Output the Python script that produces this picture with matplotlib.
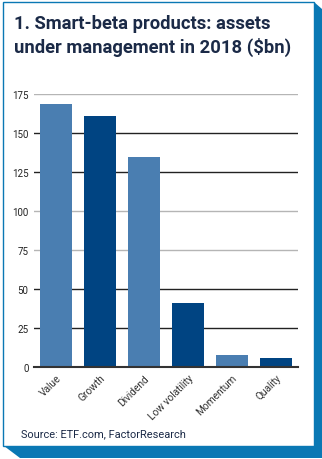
import matplotlib
matplotlib.use("Agg")
from matplotlib import pyplot as plt
from matplotlib.patches import Polygon, Rectangle

categories = ["Value", "Growth", "Dividend", "Low volatility", "Momentum", "Quality"]
aum_bn = [168.5, 160.5, 134.5, 41, 8, 6]
yticks = [0, 25, 50, 75, 100, 125, 150, 175]

light = "#4a7eb1"
dark = "#004482"
frame_blue = "#0a78b4"
navy = "#1b2a47"

W, H = 322, 460
fig = plt.figure(figsize=(W / 100, H / 100), dpi=100)
fig.patch.set_facecolor("white")

def px(x, y):
    # pixel coords (top-left origin) -> figure fraction
    return (x / W, 1 - y / H)

# drop shadow on the right and bottom, with bevelled ends
shadow = Polygon([px(314, 3), px(322, 10), px(322, 459), px(20, 459),
                  px(4, 447), px(314, 447)],
                 closed=True, transform=fig.transFigure,
                 facecolor=frame_blue, edgecolor="none", zorder=-2)
fig.patches.append(shadow)
box = Rectangle(px(3, 447), 311 / W, 444 / H, transform=fig.transFigure,
                facecolor="white", edgecolor=frame_blue, linewidth=1.0, zorder=-1)
fig.patches.append(box)

fig.text(14 / W, 1 - 15 / H, "1. Smart-beta products: assets\nunder management in 2018 ($bn)",
         ha="left", va="top", fontsize=13.2, fontweight="bold",
         family="Roboto", color=navy, linespacing=1.3)

ax = fig.add_axes([34 / W, 1 - 368 / H, 264 / W, (368 - 94.7) / H])
ax.set_facecolor("none")
colors = [light, dark] * 3
x = range(len(categories))
ax.bar(x, aum_bn, width=0.72, color=colors, zorder=3)

ax.set_xlim(-0.5, len(categories) - 0.5)
ax.set_ylim(0, 175)
ax.set_yticks(yticks)
ax.set_yticklabels([str(v) for v in yticks], fontsize=7, color="#222222",
                   family="Roboto")
for v in yticks[1:]:
    c = "#b5b5b5" if v in (175, 100, 75) else "#222222"
    ax.axhline(v, color=c, linewidth=1.0, zorder=1)

ax.set_xticks(list(x))
ax.set_xticklabels(categories, rotation=45, ha="right", rotation_mode="anchor",
                   fontsize=7.3, color="#333333", family="Roboto")
ax.tick_params(axis="both", length=0, pad=4)
for s in ["top", "right", "left"]:
    ax.spines[s].set_visible(False)
ax.spines["bottom"].set_color("#333333")
ax.spines["bottom"].set_linewidth(1.5)
ax.spines["bottom"].set_zorder(4)

fig.text(21 / W, 1 - 437 / H, "Source: ETF.com, FactorResearch", ha="left",
         va="baseline", fontsize=7.9, color=navy, family="Roboto")

fig.savefig("out.png", dpi=100, facecolor="white")
